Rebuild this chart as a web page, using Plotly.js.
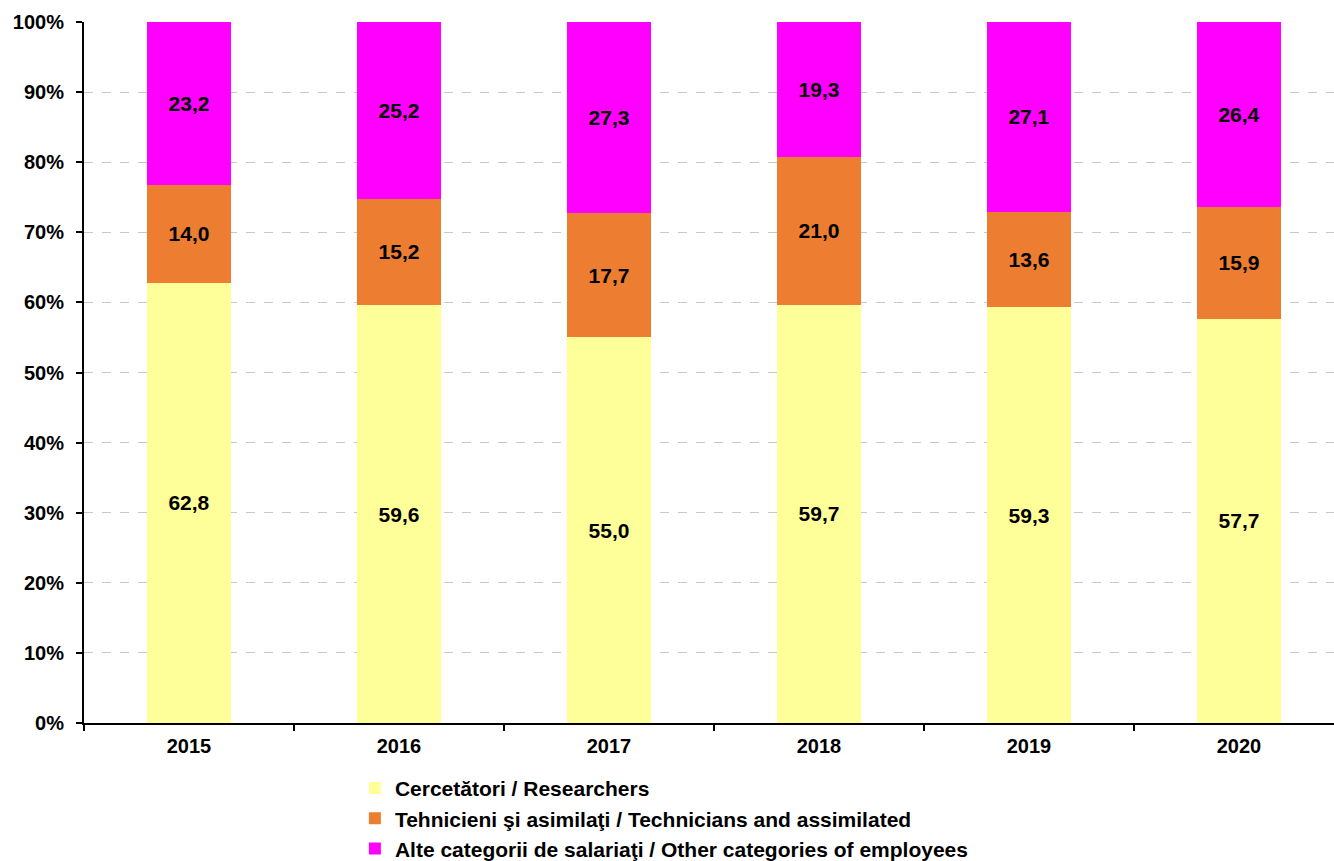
<!DOCTYPE html>
<html><head><meta charset="utf-8">
<script src="https://cdn.plot.ly/plotly-3.0.1.min.js"></script>
<style>html,body{margin:0;padding:0;overflow:hidden;background:#fff}</style>
</head><body>
<div id="chart"></div>
<script>
const years = ["2015","2016","2017","2018","2019","2020"];
const researchers = [62.8, 59.6, 55.0, 59.7, 59.3, 57.7];
const technicians = [14.0, 15.2, 17.7, 21.0, 13.6, 15.9];
const others = [23.2, 25.2, 27.3, 19.3, 27.1, 26.4];
const seriesNames = [
  "Cercetători / Researchers",
  "Tehnicieni şi asimilaţi / Technicians and assimilated",
  "Alte categorii de salariaţi / Other categories of employees"
];
const colors = ["#FFFF99", "#ED7D31", "#FF00FF"];
const fmt = v => v.toFixed(1).replace('.', ',');
const fam = "Liberation Sans, Arial, sans-serif";
const mk = (vals, i) => ({
  type: "bar", x: years, y: vals, name: seriesNames[i], legendgroup: "g" + i,
  marker: {color: colors[i], line: {width: 0}},
  text: vals.map(fmt), textposition: "inside", insidetextanchor: "middle",
  textfont: {family: fam, size: 21, color: "#000", weight: "bold"},
  hoverinfo: "skip"
});
const data = [mk(researchers,0), mk(technicians,1), mk(others,2)];
const layout = {
  width: 1344, height: 900,
  barmode: "stack", bargap: 0.6,
  margin: {l: 84, r: 0, t: 22, b: 177, autoexpand: false},
  paper_bgcolor: "#fff", plot_bgcolor: "#fff",
  font: {family: fam, size: 20, color: "#000"},
  showlegend: true,
  legend: {x: 0.215, xanchor: "left", y: -0.064, yanchor: "top", orientation: "v",
    traceorder: "grouped", font: {family: fam, size: 21, color: "#000", weight: "bold"},
    itemwidth: 30, tracegroupgap: 0},
  xaxis: {type: "category", range: [-0.5, 5.5], tickson: "boundaries", ticks: "outside", ticklen: 6,
    tickwidth: 2, tickcolor: "#000", showline: true, linecolor: "#000", linewidth: 2, showgrid: false,
    ticklabelstandoff: 4,
    tickfont: {family: fam, size: 20, color: "#000", weight: "bold"}, fixedrange: true},
  yaxis: {range: [0, 100], dtick: 10, ticksuffix: "%", ticks: "outside", ticklen: 6, tickwidth: 2,
    tickcolor: "#000", showline: true, linecolor: "#000", linewidth: 2, showgrid: true,
    gridcolor: "#c8c8c8", griddash: "dash", gridwidth: 1, zeroline: false,
    ticklabelstandoff: 8,
    tickfont: {family: fam, size: 20, color: "#000", weight: "bold"}, fixedrange: true}
};
Plotly.newPlot("chart", data, layout, {displayModeBar: false, staticPlot: true});
</script>
</body></html>
